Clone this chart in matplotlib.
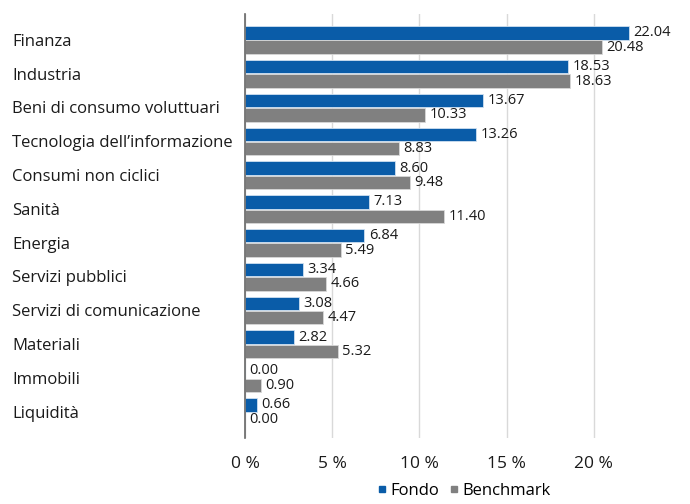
import matplotlib
matplotlib.use("Agg")
import matplotlib.pyplot as plt
from matplotlib.lines import Line2D

categories = ["Finanza", "Industria", "Beni di consumo voluttuari", "Tecnologia dell’informazione",
              "Consumi non ciclici", "Sanità", "Energia", "Servizi pubblici",
              "Servizi di comunicazione", "Materiali", "Immobili", "Liquidità"]
fondo = [22.04, 18.53, 13.67, 13.26, 8.60, 7.13, 6.84, 3.34, 3.08, 2.82, 0.00, 0.66]
benchmark = [20.48, 18.63, 10.33, 8.83, 9.48, 11.40, 5.49, 4.66, 4.47, 5.32, 0.90, 0.00]
xticks = [0, 5, 10, 15, 20]
xticklabels = ["0 %", "5 %", "10 %", "15 %", "20 %"]

plt.rcParams['font.family'] = ['Open Sans', 'DejaVu Sans']
blue = "#0A5CA8"
gray = "#808080"
txt = "#1a1a1a"

fig = plt.figure(figsize=(6.9, 5.04), dpi=100)
ax = fig.add_axes([245/690, 1-438/504, (681-245)/690, 424/504])

y = list(range(len(categories)))
off = 0.213
h = 0.40
yf = [v - off for v in y]
yb = [v + off for v in y]
ax.barh(yf, fondo, height=h, color=blue, edgecolor="#cfe0f0", linewidth=0.6, zorder=3)
ax.barh(yb, benchmark, height=h, color=gray, edgecolor="#d8d8d8", linewidth=0.6, zorder=3)

for yy, v in zip(yf, fondo):
    ax.text(v + 0.25, yy, f"{v:.2f}", va="center", ha="left", fontsize=10.5, color=txt)
for yy, v in zip(yb, benchmark):
    ax.text(v + 0.25, yy, f"{v:.2f}", va="center", ha="left", fontsize=10.5, color=txt)

ax.set_ylim(len(categories) - 1 + 0.77, -0.77)
ax.set_xlim(0, 25)
ax.set_xticks(xticks)
ax.set_xticklabels(xticklabels, fontsize=12.5, color=txt)
ax.set_yticks(y)
ax.set_yticklabels([])
for yy, c in zip(y, categories):
    ax.text(-233/87.3*5, yy + 0.05, c, ha="left", va="center", fontsize=12, color=txt)

ax.grid(axis="x", color="#d9d9d9", linewidth=1, zorder=0)
for s in ["top", "right", "bottom"]:
    ax.spines[s].set_visible(False)
ax.spines["left"].set_color("#666666")
ax.spines["left"].set_linewidth(1.2)
ax.spines["left"].set_zorder(4)
ax.tick_params(axis="both", length=0)
ax.tick_params(axis="x", pad=13)

handles = [Line2D([], [], marker="s", linestyle="none", color=blue, markersize=4),
           Line2D([], [], marker="s", linestyle="none", color=gray, markersize=4)]
fig.legend(handles, ["Fondo", "Benchmark"], loc="center", bbox_to_anchor=(463/690, 1-491/504),
           ncol=2, frameon=False, fontsize=12, handletextpad=0.1, columnspacing=0.5,
           handlelength=0.8)

fig.savefig("out.png", dpi=100)
